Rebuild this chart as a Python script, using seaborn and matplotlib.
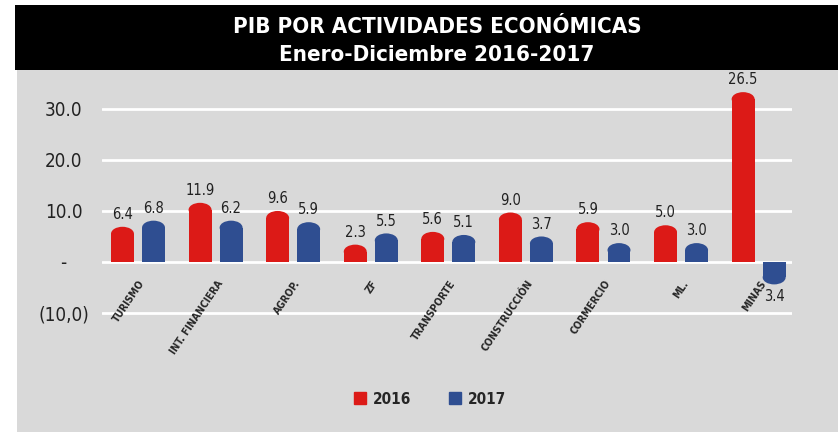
import numpy as np
import pandas as pd
import matplotlib
matplotlib.use("Agg")
import matplotlib.pyplot as plt
import seaborn as sns
from matplotlib.patches import Ellipse, Rectangle, Patch
from matplotlib.transforms import ScaledTranslation

# --- datos ---
sectores = ["TURISMO", "INT. FINANCIERA", "AGROP.", "ZF", "TRANSPORTE",
            "CONSTRUCCIÓN", "CORMERCIO", "ML.", "MINAS"]
anios = ["2016", "2017"]
# altura de las barras tal como se dibujan
alto_2016 = [6.9, 11.6, 10.0, 3.4, 5.9, 9.7, 7.8, 7.2, 33.3]
alto_2017 = [8.1, 8.1, 7.8, 5.6, 5.3, 5.0, 3.7, 3.7, -4.4]
# etiquetas de valor
etiq_2016 = ["6.4", "11.9", "9.6", "2.3", "5.6", "9.0", "5.9", "5.0", "26.5"]
etiq_2017 = ["6.8", "6.2", "5.9", "5.5", "5.1", "3.7", "3.0", "3.0", "3.4"]
yticks = [30, 20, 10, 0, -10]
ytick_labels = ["30.0", "20.0", "10.0", "-", "(10,0)"]

rojo = "#DC1A17"
azul = "#2F4E91"
gris = "#D9D9D9"

sns.set_style("white")
plt.rcParams["font.family"] = ["DejaVu Sans"]
plt.rcParams["font.stretch"] = "condensed"

fig = plt.figure(figsize=(8.38, 4.33), dpi=100)
fig.patch.set_facecolor("white")
fig.add_artist(Rectangle((17 / 838, 0.002), 1, 0.836, transform=fig.transFigure,
                         facecolor=gris, edgecolor="none", zorder=0))
fig.add_artist(Rectangle((15 / 838, 0.838), 1, 0.15, transform=fig.transFigure,
                         facecolor="black", edgecolor="none", zorder=0))

ax = fig.add_axes([102 / 838, 1 - 340 / 433, 690 / 838, 255 / 433])
ax.set_facecolor("none")

df = pd.DataFrame({"sector": sectores * 2,
                   "anio": np.repeat(anios, len(sectores)),
                   "valor": alto_2016 + alto_2017})
sns.barplot(data=df, x="sector", y="valor", hue="anio", palette=[rojo, azul],
            width=0.8, gap=0.26, saturation=1, legend=False, linewidth=0, ax=ax)

ymin, ymax = -15.3, 34.7
ax.set_xlim(-0.464, 8.43)
ax.set_ylim(ymin, ymax)

# etiquetas de valor
for cont, etiq in zip(ax.containers, [etiq_2016, etiq_2017]):
    ax.bar_label(cont, labels=etiq, padding=3.5, fontsize=10.5, color="#222222")

# puntas redondeadas
px_por_unidad = 255 / (ymax - ymin)
ry = 7 / px_por_unidad
for p in list(ax.patches):
    h = p.get_height()
    s = np.sign(h)
    x0, w = p.get_x(), p.get_width()
    p.set_height(h - s * ry)
    p.set_edgecolor("none")
    ax.add_patch(Ellipse((x0 + w / 2, h - s * ry), w, 2 * ry, linewidth=0,
                         facecolor=p.get_facecolor(), edgecolor="none", zorder=p.get_zorder()))

ax.set_yticks(yticks)
ax.set_yticklabels(ytick_labels)
ax.yaxis.grid(True, color="white", lw=2)
ax.xaxis.grid(False)
ax.set_axisbelow(True)
ax.xaxis.set_zorder(5)
for sp in ax.spines.values():
    sp.set_visible(False)
ax.spines["bottom"].set_position(("data", 0))
ax.set_xlabel("")
ax.set_ylabel("")
ax.tick_params(axis="y", length=0, pad=14, labelsize=13.5, labelcolor="#222222")
ax.tick_params(axis="x", length=0, pad=14)
ax.set_xticks(range(len(sectores)))
ax.set_xticklabels(sectores, rotation=56, ha="right", va="center",
                   rotation_mode="anchor", fontsize=7.5, fontweight="bold")
for lab in ax.get_xticklabels():
    lab.set_transform(lab.get_transform() + ScaledTranslation(5 / 100, 0, fig.dpi_scale_trans))
ylabs = ax.get_yticklabels()
ylabs[3].set_transform(ylabs[3].get_transform() + ScaledTranslation(-16 / 100, 0, fig.dpi_scale_trans))
ylabs[4].set_transform(ylabs[4].get_transform() + ScaledTranslation(7 / 100, 0, fig.dpi_scale_trans))

fig.text(437 / 838, 1 - 27 / 433, "PIB POR ACTIVIDADES ECONÓMICAS", ha="center", va="center",
         color="white", fontsize=16, fontweight="bold")
fig.text(437 / 838, 1 - 55 / 433, "Enero-Diciembre 2016-2017", ha="center", va="center",
         color="white", fontsize=16, fontweight="bold")

fig.legend(handles=[Patch(color=rojo, label="2016"), Patch(color=azul, label="2017")],
           loc="center", bbox_to_anchor=(430 / 838, 1 - 399 / 433), ncol=2, frameon=False,
           handlelength=0.8, handleheight=0.8, columnspacing=2.5, handletextpad=0.4,
           prop=dict(weight="bold", size=11))

fig.savefig("out.png", dpi=100)
